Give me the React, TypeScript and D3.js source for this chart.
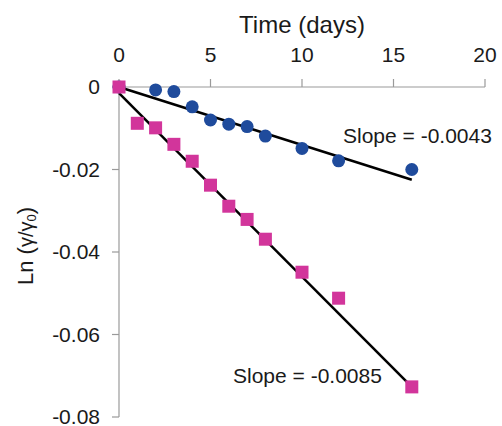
import React from "react";
import * as d3 from "d3";

const xTicks = [0, 5, 10, 15, 20];
const yTicks = [0, -0.02, -0.04, -0.06, -0.08];

const blueDays = [0, 2, 3, 4, 5, 6, 7, 8, 10, 12, 16];
const blueValues = [0, -0.0007, -0.0011, -0.0048, -0.008, -0.009, -0.0096, -0.0119, -0.0149, -0.0179, -0.0200];

const pinkDays = [0, 1, 2, 3, 4, 5, 6, 7, 8, 10, 12, 16];
const pinkValues = [0, -0.0088, -0.0099, -0.0139, -0.018, -0.0238, -0.0289, -0.0321, -0.0369, -0.0449, -0.0512, -0.0727];

const blueFitDays = [0, 16];
const blueFitValues = [0, -0.0225];
const pinkFitDays = [0, 16];
const pinkFitValues = [-0.0015, -0.0727];

const blueSlopeLabel = "Slope = -0.0043";
const pinkSlopeLabel = "Slope = -0.0085";

const W = 502;
const H = 426;
const FONT = "'Liberation Sans', Arial, Helvetica, sans-serif";
const TEXT = "#1a1a1a";
const AXIS = "#9a9a9a";
const BLUE = "#1f4b9c";
const PINK = "#d2359b";

export default function App() {
  const x = d3.scaleLinear().domain([0, 20]).range([119, 485]);
  const y = d3.scaleLinear().domain([0, -0.08]).range([87, 417]);

  const line = d3
    .line<[number, number]>()
    .x((d) => x(d[0]))
    .y((d) => y(d[1]));

  const blueFit = blueFitDays.map((d, i) => [d, blueFitValues[i]] as [number, number]);
  const pinkFit = pinkFitDays.map((d, i) => [d, pinkFitValues[i]] as [number, number]);

  const yFmt = (v: number) => (v === 0 ? "0" : d3.format(".2f")(v).replace("−", "-"));

  return (
    <svg
      width={W}
      height={H}
      style={{ position: "absolute", left: 0, top: 0, background: "#fff" }}
      fontFamily={FONT}
    >
      {/* x axis (top) */}
      <line x1={x(0)} x2={x(20)} y1={y(0)} y2={y(0)} stroke={AXIS} strokeWidth={1.2} />
      {xTicks.map((t) => (
        <g key={"xt" + t}>
          <line x1={x(t)} x2={x(t)} y1={y(0)} y2={y(0) - 8} stroke={AXIS} strokeWidth={1.2} />
          <text x={x(t)} y={62} textAnchor="middle" fontSize={21} fill={TEXT}>
            {t}
          </text>
        </g>
      ))}
      <text x={302} y={33} textAnchor="middle" fontSize={24} fill={TEXT}>
        Time (days)
      </text>

      {/* y axis */}
      <line x1={x(0)} x2={x(0)} y1={y(0)} y2={y(-0.08)} stroke={AXIS} strokeWidth={1.2} />
      {yTicks.map((t) => (
        <g key={"yt" + t}>
          <line x1={x(0) - 7} x2={x(0)} y1={y(t)} y2={y(t)} stroke={AXIS} strokeWidth={1.2} />
          <text x={100} y={y(t)} dy="0.35em" textAnchor="end" fontSize={21} fill={TEXT}>
            {yFmt(t)}
          </text>
        </g>
      ))}
      <text
        transform="translate(33,246) rotate(-90)"
        textAnchor="middle"
        fontSize={22}
        fill={TEXT}
      >
        <tspan>Ln (</tspan>
        <tspan fontSize={20}>γ/γ</tspan>
        <tspan fontSize={13} dy={3}>0</tspan>
        <tspan dy={-3}>)</tspan>
      </text>

      {/* fit lines */}
      <path d={line(blueFit) || ""} stroke="#000" strokeWidth={2.5} fill="none" />
      <path d={line(pinkFit) || ""} stroke="#000" strokeWidth={2.5} fill="none" />

      {/* blue circles */}
      {blueDays.map((d, i) => (
        <circle key={"b" + i} cx={x(d)} cy={y(blueValues[i])} r={6.5} fill={BLUE} />
      ))}
      {/* pink squares */}
      {pinkDays.map((d, i) => (
        <rect
          key={"p" + i}
          x={x(d) - 6.5}
          y={y(pinkValues[i]) - 6.5}
          width={13}
          height={13}
          fill={PINK}
        />
      ))}

      <text x={343} y={143} fontSize={21} fill={TEXT}>
        {blueSlopeLabel}
      </text>
      <text x={233} y={383} fontSize={21} fill={TEXT}>
        {pinkSlopeLabel}
      </text>
    </svg>
  );
}
